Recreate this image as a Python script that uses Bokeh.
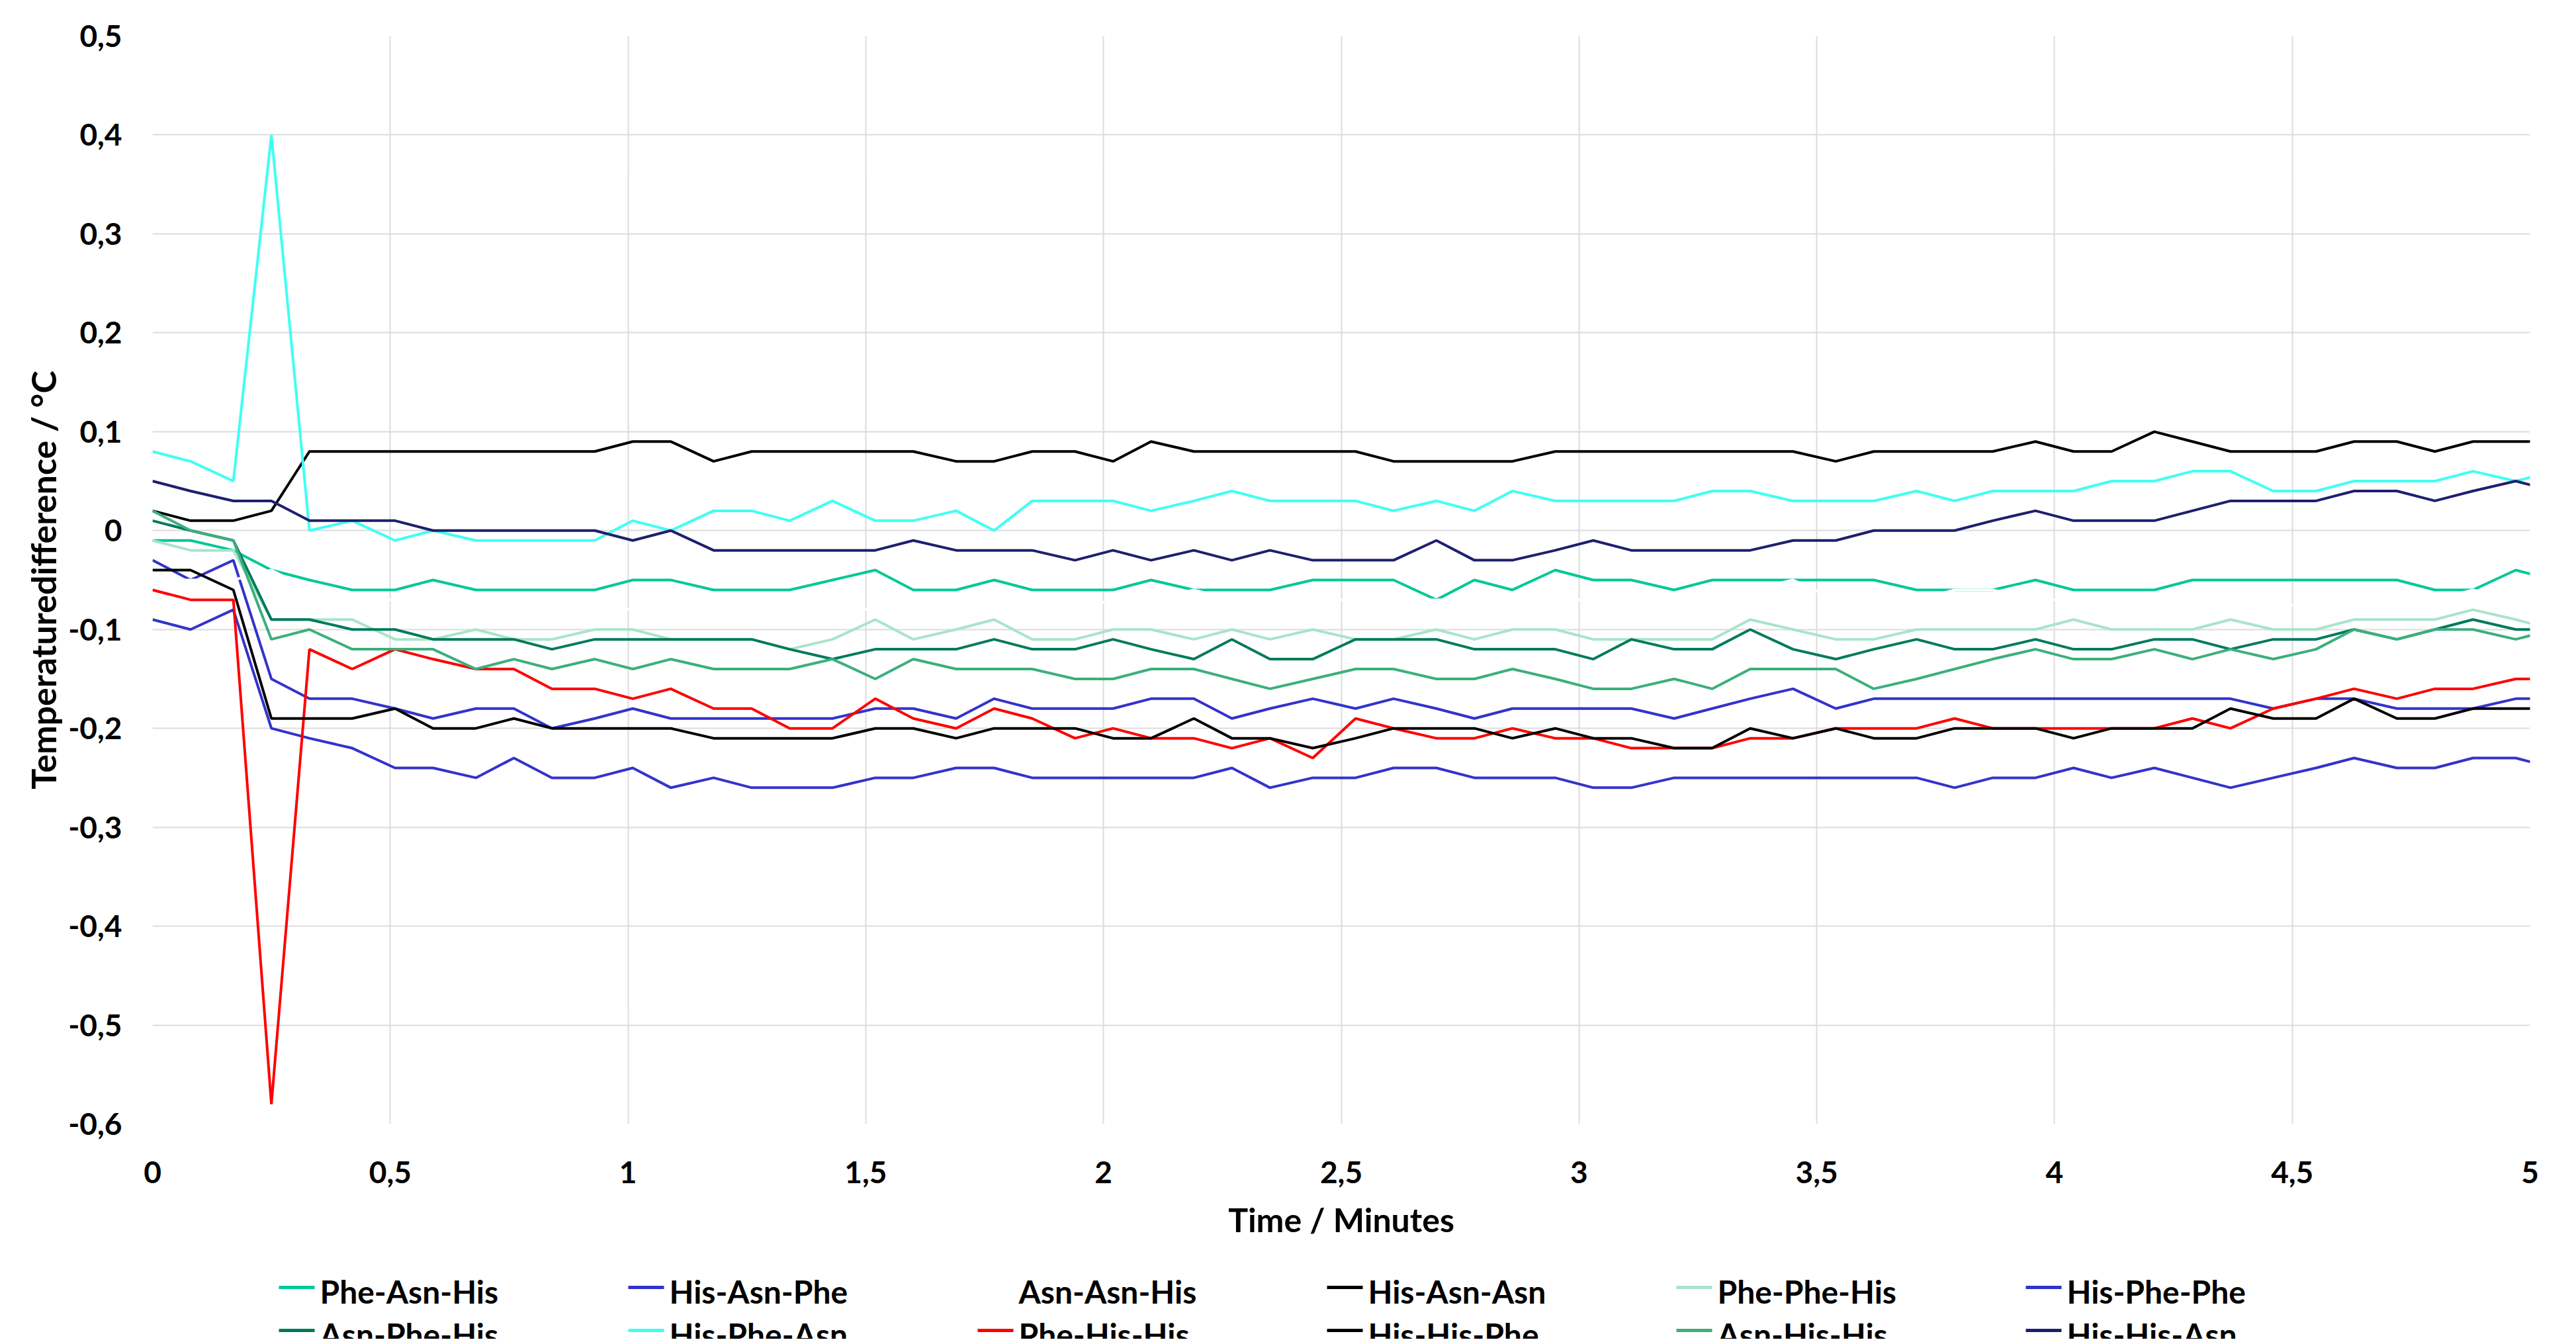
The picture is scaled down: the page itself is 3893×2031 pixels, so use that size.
from bokeh.plotting import figure
from bokeh.layouts import column
from bokeh.models import (Range1d, FixedTicker, CustomJSTickFormatter, ColumnDataSource)
from bokeh.core.properties import value
from bokeh.embed import file_html
from bokeh.resources import INLINE

# Time in minutes (last point lies just beyond the axis end)
time_min = [0, 0.08, 0.17, 0.25, 0.33, 0.42, 0.51, 0.59, 0.68, 0.76, 0.84, 0.93,
            1.01, 1.09, 1.18, 1.26, 1.34, 1.43, 1.52, 1.60, 1.69, 1.77, 1.85, 1.94,
            2.02, 2.10, 2.19, 2.27, 2.35, 2.44, 2.53, 2.61, 2.70, 2.78, 2.86, 2.95,
            3.03, 3.11, 3.20, 3.28, 3.36, 3.45, 3.54, 3.62, 3.71, 3.79, 3.87, 3.96,
            4.04, 4.12, 4.21, 4.29, 4.37, 4.46, 4.55, 4.63, 4.72, 4.80, 4.88, 4.97, 5.05]

phe_asn_his = [-0.01, -0.01, -0.02, -0.04, -0.05, -0.06, -0.06, -0.05, -0.06, -0.06, -0.06, -0.06,
               -0.05, -0.05, -0.06, -0.06, -0.06, -0.05, -0.04, -0.06, -0.06, -0.05, -0.06, -0.06,
               -0.06, -0.05, -0.06, -0.06, -0.06, -0.05, -0.05, -0.05, -0.07, -0.05, -0.06, -0.04,
               -0.05, -0.05, -0.06, -0.05, -0.05, -0.05, -0.05, -0.05, -0.06, -0.06, -0.06, -0.05,
               -0.06, -0.06, -0.06, -0.05, -0.05, -0.05, -0.05, -0.05, -0.05, -0.06, -0.06, -0.04, -0.05]

his_asn_phe = [-0.03, -0.05, -0.03, -0.15, -0.17, -0.17, -0.18, -0.19, -0.18, -0.18, -0.20, -0.19,
               -0.18, -0.19, -0.19, -0.19, -0.19, -0.19, -0.18, -0.18, -0.19, -0.17, -0.18, -0.18,
               -0.18, -0.17, -0.17, -0.19, -0.18, -0.17, -0.18, -0.17, -0.18, -0.19, -0.18, -0.18,
               -0.18, -0.18, -0.19, -0.18, -0.17, -0.16, -0.18, -0.17, -0.17, -0.17, -0.17, -0.17,
               -0.17, -0.17, -0.17, -0.17, -0.17, -0.18, -0.17, -0.17, -0.18, -0.18, -0.18, -0.17, -0.17]

asn_asn_his = [-0.05, -0.05, -0.05, -0.04, -0.06, -0.07, -0.07, -0.07, -0.07, -0.07, -0.08, -0.08,
               -0.08, -0.08, -0.08, -0.08, -0.08, -0.08, -0.08, -0.08, -0.08, -0.08, -0.08, -0.08,
               -0.07, -0.07, -0.06, -0.07, -0.07, -0.07, -0.07, -0.07, -0.07, -0.07, -0.07, -0.07,
               -0.07, -0.07, -0.07, -0.07, -0.06, -0.05, -0.07, -0.07, -0.07, -0.06, -0.06, -0.07,
               -0.07, -0.07, -0.07, -0.07, -0.07, -0.08, -0.07, -0.07, -0.07, -0.07, -0.06, -0.07, -0.07]

his_asn_asn = [0.02, 0.01, 0.01, 0.02, 0.08, 0.08, 0.08, 0.08, 0.08, 0.08, 0.08, 0.08,
               0.09, 0.09, 0.07, 0.08, 0.08, 0.08, 0.08, 0.08, 0.07, 0.07, 0.08, 0.08,
               0.07, 0.09, 0.08, 0.08, 0.08, 0.08, 0.08, 0.07, 0.07, 0.07, 0.07, 0.08,
               0.08, 0.08, 0.08, 0.08, 0.08, 0.08, 0.07, 0.08, 0.08, 0.08, 0.08, 0.09,
               0.08, 0.08, 0.10, 0.09, 0.08, 0.08, 0.08, 0.09, 0.09, 0.08, 0.09, 0.09, 0.09]

phe_phe_his = [-0.01, -0.02, -0.02, -0.09, -0.09, -0.09, -0.11, -0.11, -0.10, -0.11, -0.11, -0.10,
               -0.10, -0.11, -0.11, -0.11, -0.12, -0.11, -0.09, -0.11, -0.10, -0.09, -0.11, -0.11,
               -0.10, -0.10, -0.11, -0.10, -0.11, -0.10, -0.11, -0.11, -0.10, -0.11, -0.10, -0.10,
               -0.11, -0.11, -0.11, -0.11, -0.09, -0.10, -0.11, -0.11, -0.10, -0.10, -0.10, -0.10,
               -0.09, -0.10, -0.10, -0.10, -0.09, -0.10, -0.10, -0.09, -0.09, -0.09, -0.08, -0.09, -0.10]

his_phe_phe = [-0.09, -0.10, -0.08, -0.20, -0.21, -0.22, -0.24, -0.24, -0.25, -0.23, -0.25, -0.25,
               -0.24, -0.26, -0.25, -0.26, -0.26, -0.26, -0.25, -0.25, -0.24, -0.24, -0.25, -0.25,
               -0.25, -0.25, -0.25, -0.24, -0.26, -0.25, -0.25, -0.24, -0.24, -0.25, -0.25, -0.25,
               -0.26, -0.26, -0.25, -0.25, -0.25, -0.25, -0.25, -0.25, -0.25, -0.26, -0.25, -0.25,
               -0.24, -0.25, -0.24, -0.25, -0.26, -0.25, -0.24, -0.23, -0.24, -0.24, -0.23, -0.23, -0.24]

asn_phe_his = [0.01, 0.00, -0.01, -0.09, -0.09, -0.10, -0.10, -0.11, -0.11, -0.11, -0.12, -0.11,
               -0.11, -0.11, -0.11, -0.11, -0.12, -0.13, -0.12, -0.12, -0.12, -0.11, -0.12, -0.12,
               -0.11, -0.12, -0.13, -0.11, -0.13, -0.13, -0.11, -0.11, -0.11, -0.12, -0.12, -0.12,
               -0.13, -0.11, -0.12, -0.12, -0.10, -0.12, -0.13, -0.12, -0.11, -0.12, -0.12, -0.11,
               -0.12, -0.12, -0.11, -0.11, -0.12, -0.11, -0.11, -0.10, -0.11, -0.10, -0.09, -0.10, -0.10]

his_phe_asn = [0.08, 0.07, 0.05, 0.40, 0.00, 0.01, -0.01, 0.00, -0.01, -0.01, -0.01, -0.01,
               0.01, 0.00, 0.02, 0.02, 0.01, 0.03, 0.01, 0.01, 0.02, 0.00, 0.03, 0.03,
               0.03, 0.02, 0.03, 0.04, 0.03, 0.03, 0.03, 0.02, 0.03, 0.02, 0.04, 0.03,
               0.03, 0.03, 0.03, 0.04, 0.04, 0.03, 0.03, 0.03, 0.04, 0.03, 0.04, 0.04,
               0.04, 0.05, 0.05, 0.06, 0.06, 0.04, 0.04, 0.05, 0.05, 0.05, 0.06, 0.05, 0.06]

phe_his_his = [-0.06, -0.07, -0.07, -0.58, -0.12, -0.14, -0.12, -0.13, -0.14, -0.14, -0.16, -0.16,
               -0.17, -0.16, -0.18, -0.18, -0.20, -0.20, -0.17, -0.19, -0.20, -0.18, -0.19, -0.21,
               -0.20, -0.21, -0.21, -0.22, -0.21, -0.23, -0.19, -0.20, -0.21, -0.21, -0.20, -0.21,
               -0.21, -0.22, -0.22, -0.22, -0.21, -0.21, -0.20, -0.20, -0.20, -0.19, -0.20, -0.20,
               -0.20, -0.20, -0.20, -0.19, -0.20, -0.18, -0.17, -0.16, -0.17, -0.16, -0.16, -0.15, -0.15]

his_his_phe = [-0.04, -0.04, -0.06, -0.19, -0.19, -0.19, -0.18, -0.20, -0.20, -0.19, -0.20, -0.20,
               -0.20, -0.20, -0.21, -0.21, -0.21, -0.21, -0.20, -0.20, -0.21, -0.20, -0.20, -0.20,
               -0.21, -0.21, -0.19, -0.21, -0.21, -0.22, -0.21, -0.20, -0.20, -0.20, -0.21, -0.20,
               -0.21, -0.21, -0.22, -0.22, -0.20, -0.21, -0.20, -0.21, -0.21, -0.20, -0.20, -0.20,
               -0.21, -0.20, -0.20, -0.20, -0.18, -0.19, -0.19, -0.17, -0.19, -0.19, -0.18, -0.18, -0.18]

asn_his_his = [0.02, 0.00, -0.01, -0.11, -0.10, -0.12, -0.12, -0.12, -0.14, -0.13, -0.14, -0.13,
               -0.14, -0.13, -0.14, -0.14, -0.14, -0.13, -0.15, -0.13, -0.14, -0.14, -0.14, -0.15,
               -0.15, -0.14, -0.14, -0.15, -0.16, -0.15, -0.14, -0.14, -0.15, -0.15, -0.14, -0.15,
               -0.16, -0.16, -0.15, -0.16, -0.14, -0.14, -0.14, -0.16, -0.15, -0.14, -0.13, -0.12,
               -0.13, -0.13, -0.12, -0.13, -0.12, -0.13, -0.12, -0.10, -0.11, -0.10, -0.10, -0.11, -0.10]

his_his_asn = [0.05, 0.04, 0.03, 0.03, 0.01, 0.01, 0.01, 0.00, 0.00, 0.00, 0.00, 0.00,
               -0.01, 0.00, -0.02, -0.02, -0.02, -0.02, -0.02, -0.01, -0.02, -0.02, -0.02, -0.03,
               -0.02, -0.03, -0.02, -0.03, -0.02, -0.03, -0.03, -0.03, -0.01, -0.03, -0.03, -0.02,
               -0.01, -0.02, -0.02, -0.02, -0.02, -0.01, -0.01, 0.00, 0.00, 0.00, 0.01, 0.02,
               0.01, 0.01, 0.01, 0.02, 0.03, 0.03, 0.03, 0.04, 0.04, 0.03, 0.04, 0.05, 0.04]

series_names = ["Phe-Asn-His", "His-Asn-Phe", "Asn-Asn-His", "His-Asn-Asn", "Phe-Phe-His", "His-Phe-Phe",
                "Asn-Phe-His", "His-Phe-Asn", "Phe-His-His", "His-His-Phe", "Asn-His-His", "His-His-Asn"]
series_values = [phe_asn_his, his_asn_phe, asn_asn_his, his_asn_asn, phe_phe_his, his_phe_phe,
                 asn_phe_his, his_phe_asn, phe_his_his, his_his_phe, asn_his_his, his_his_asn]
series_colors = ["#00C896", "#3333CC", "#FFFFFF", "#000000", "#A9E4CA", "#3333CC",
                 "#007A5C", "#40FFF2", "#FF0000", "#000000", "#3CAF7D", "#1F1F6E"]

x_ticks = [0, 0.5, 1, 1.5, 2, 2.5, 3, 3.5, 4, 4.5, 5]
y_ticks = [-0.6, -0.5, -0.4, -0.3, -0.2, -0.1, 0, 0.1, 0.2, 0.3, 0.4, 0.5]

FONT = "Lato"
W = 3877
H_MAIN = 1900
H_LEG = 2023 - H_MAIN
FRAME_L, FRAME_R = 230, 3823

p = figure(width=W, height=H_MAIN, output_backend="svg", toolbar_location=None,
           x_range=Range1d(0, 5), y_range=Range1d(-0.6, 0.5),
           min_border_left=FRAME_L, min_border_right=W - FRAME_R, min_border_top=54,
           min_border_bottom=H_MAIN - 1698)
p.outline_line_color = None
p.background_fill_color = "white"
p.border_fill_color = "white"

fmt = CustomJSTickFormatter(code="var v = Math.round(tick*10)/10; return String(v).replace('.', ',');")
for ax, ticks in ((p.xaxis[0], x_ticks), (p.yaxis[0], y_ticks)):
    ax.ticker = FixedTicker(ticks=ticks)
    ax.formatter = fmt
    ax.axis_line_color = None
    ax.major_tick_line_color = None
    ax.minor_tick_line_color = None
    ax.major_label_text_font = FONT
    ax.major_label_text_font_style = "bold"
    ax.major_label_text_font_size = "46px"
    ax.major_label_text_color = "black"
    ax.axis_label_text_font = FONT
    ax.axis_label_text_font_style = "bold"
    ax.axis_label_text_color = "black"

p.xaxis.axis_label = "Time / Minutes"
p.yaxis.axis_label = "Temperaturedifference / °C"
p.xaxis.axis_label_text_font_size = "50px"
p.yaxis.axis_label_text_font_size = "52px"
p.xaxis.major_label_standoff = 50
p.yaxis.major_label_standoff = 40
p.xaxis.axis_label_standoff = 22
p.yaxis.axis_label_standoff = 4

p.xgrid.ticker = FixedTicker(ticks=x_ticks)
p.ygrid.ticker = FixedTicker(ticks=y_ticks)
for g in (p.xgrid[0], p.ygrid[0]):
    g.grid_line_color = "#DCDCDC"
    g.grid_line_width = 2

for name, vals, col in zip(series_names, series_values, series_colors):
    p.line(time_min, vals, line_color=col, line_width=4)

# Legend strip under the chart (6 columns x 2 rows; the second row runs off the page).
# Its frame is aligned with the chart frame, so the x range is given in canvas pixels.
q = figure(width=W, height=H_LEG, output_backend="svg", toolbar_location=None,
           x_range=Range1d(FRAME_L, FRAME_R), y_range=Range1d(H_LEG, 0),
           x_axis_type=None, y_axis_type=None,
           min_border_left=FRAME_L, min_border_right=W - FRAME_R, min_border_top=0, min_border_bottom=0)
q.outline_line_color = None
q.grid.visible = False
q.background_fill_color = "white"
q.border_fill_color = "white"

COL_X0, COL_PITCH, ROW_Y0, ROW_PITCH, TEXT_DY = 421, 528, 45, 65, 6
lx0, lx1, ly, ty, tx, labels, cols = [], [], [], [], [], [], []
for k, (name, col) in enumerate(zip(series_names, series_colors)):
    row, c = divmod(k, 6)
    x0 = COL_X0 + COL_PITCH * c
    y0 = ROW_Y0 + ROW_PITCH * row
    lx0.append(x0)
    lx1.append(x0 + 54)
    ly.append(y0)
    ty.append(y0 + TEXT_DY)
    tx.append(x0 + 62)
    labels.append(name)
    cols.append(col)

src = ColumnDataSource(dict(x0=lx0, x1=lx1, y=ly, ty=ty, tx=tx, label=labels, color=cols))
q.segment(x0="x0", y0="y", x1="x1", y1="y", color="color", line_width=5, source=src)
q.text(x="tx", y="ty", text="label", source=src, text_baseline="middle", text_align="left",
       text_font=value(FONT), text_font_style="bold", text_font_size="48px", text_color="black")

layout = column(p, q, spacing=0)
open("out.html", "w").write(file_html(layout, INLINE))
